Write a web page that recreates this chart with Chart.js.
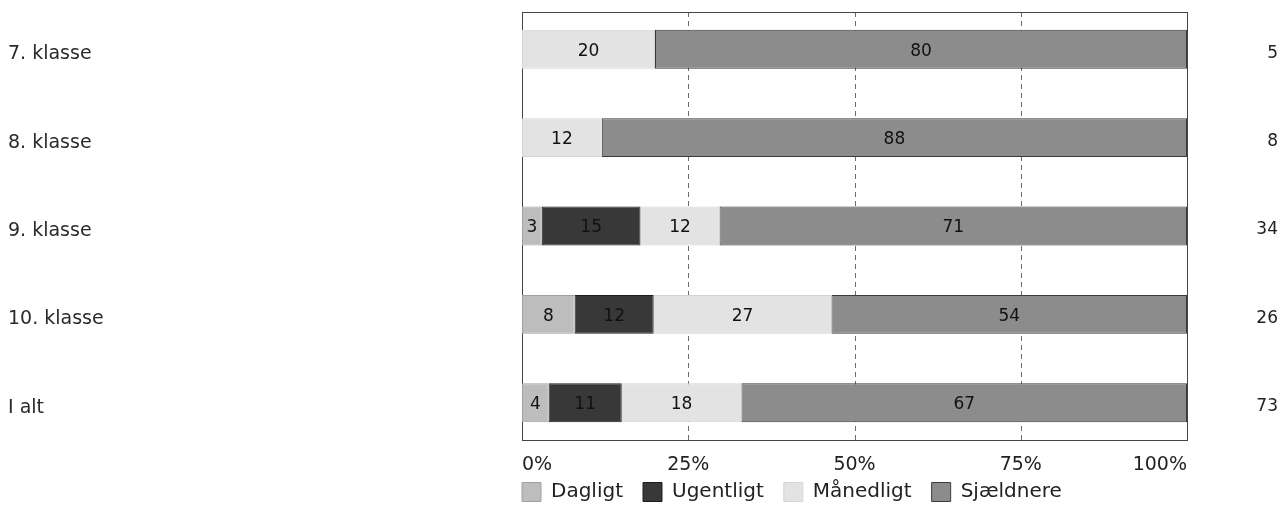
<!DOCTYPE html>
<html>
<head>
    <meta charset="utf-8">
    <title>Hyppighed fordelt på klassetrin</title>
    <script src="https://cdn.jsdelivr.net/npm/chart.js"></script>
    <style>
        html, body { margin: 0; padding: 0; background: #fff; overflow: hidden; }
    </style>
</head>
<body>
    <canvas id="freq-chart" width="1282" height="506"></canvas>

    <script>
        // data (percent per row, N on the right)
        const categories = ['7. klasse', '8. klasse', '9. klasse', '10. klasse', 'I alt'];
        const respondents = ['5', '8', '34', '26', '73'];
        const dagligt = [0, 0, 3, 8, 4];
        const ugentligt = [0, 0, 15, 12, 11];
        const maanedligt = [20, 12, 12, 27, 18];
        const sjaeldnere = [80, 88, 71, 54, 67];
        const seriesNames = ['Dagligt', 'Ugentligt', 'Månedligt', 'Sjældnere'];
        const xTickStep = 25;

        const rawSeries = [dagligt, ugentligt, maanedligt, sjaeldnere];
        const fills = ['#bdbdbd', '#383838', '#e3e3e3', '#8c8c8c'];
        const borders = ['#a0a0a0', '#1e1e1e', '#d4d4d4', '#3a3a3a'];

        // rows do not always add up to exactly 100 because of rounding
        const rowTotals = categories.map((c, i) => rawSeries.reduce((s, arr) => s + arr[i], 0));

        const font = 'DejaVu Sans';

        const frameAndGrid = {
            id: 'frameAndGrid',
            beforeDatasetsDraw(chart) {
                const ctx = chart.ctx;
                const x = chart.scales.x;
                const area = chart.chartArea;
                const top = area.top + 7, bottom = area.bottom - 7;
                ctx.save();
                ctx.strokeStyle = '#6a6a6a';
                ctx.lineWidth = 1;
                ctx.setLineDash([5, 4]);
                for (let v = xTickStep; v < 100; v += xTickStep) {
                    const px = Math.round(x.getPixelForValue(v)) + 0.5;
                    ctx.beginPath();
                    ctx.moveTo(px, top);
                    ctx.lineTo(px, bottom);
                    ctx.stroke();
                }
                ctx.setLineDash([]);
                ctx.strokeStyle = '#444';
                const l = Math.round(x.getPixelForValue(0)) + 0.5;
                const r = Math.round(x.getPixelForValue(100)) + 0.5;
                ctx.strokeRect(l, Math.round(top) + 0.5, r - l, Math.round(bottom - top));
                ctx.restore();
            }
        };

        const valueLabels = {
            id: 'valueLabels',
            afterDatasetsDraw(chart) {
                const ctx = chart.ctx;
                ctx.save();
                ctx.font = '17px "' + font + '"';
                ctx.fillStyle = '#111';
                ctx.textAlign = 'center';
                ctx.textBaseline = 'middle';
                chart.data.datasets.forEach((ds, di) => {
                    chart.getDatasetMeta(di).data.forEach((bar, i) => {
                        const v = rawSeries[di][i];
                        if (!v) return;
                        const p = bar.getProps(['x', 'y', 'base'], true);
                        ctx.fillText(String(v), (p.x + p.base) / 2, p.y + 2);
                    });
                });
                ctx.restore();
            }
        };

        // put the legend right under the axis, starting at the plot's left edge
        const legendPlace = {
            id: 'legendPlace',
            afterLayout(chart) {
                const lg = chart.legend;
                const pad = lg.options.labels.padding;
                lg.left = chart.chartArea.left - pad;
                lg.right = chart.width;
                lg.width = lg.right - lg.left;
                lg.top = chart.chartArea.bottom + 45 - pad - 10;
                lg.bottom = chart.height;
                lg.height = lg.bottom - lg.top;
            }
        };

        // the category labels sit inside their bands, no extra room needed
        function fixSide(width) {
            return scale => {
                scale.width = width;
                scale.paddingTop = 0;
                scale.paddingBottom = 0;
            };
        }

        const ctx = document.getElementById('freq-chart').getContext('2d');
        const chart = new Chart(ctx, {
            type: 'bar',
            data: {
                labels: categories,
                datasets: rawSeries.map((arr, k) => ({
                    label: seriesNames[k],
                    data: arr.map((v, i) => v / rowTotals[i] * 100),
                    backgroundColor: fills[k],
                    borderColor: borders[k],
                    borderWidth: 1,
                    borderSkipped: false,
                    barPercentage: 0.44,
                    categoryPercentage: 1
                }))
            },
            options: {
                indexAxis: 'y',
                responsive: false,
                devicePixelRatio: 1,
                animation: false,
                layout: { padding: { left: 8, right: 4, top: 5, bottom: 0 } },
                scales: {
                    x: {
                        type: 'linear',
                        position: 'bottom',
                        stacked: true,
                        min: 0,
                        max: 100,
                        grid: { display: false, drawTicks: false },
                        border: { display: false },
                        ticks: {
                            stepSize: xTickStep,
                            align: 'inner',
                            padding: 7,
                            color: '#222',
                            font: { family: font, size: 19 },
                            callback: v => v + '%'
                        },
                        afterFit(scale) {
                            scale.height = 30;
                            scale.paddingLeft = 0;
                            scale.paddingRight = 0;
                        }
                    },
                    y: {
                        type: 'category',
                        stacked: true,
                        offset: true,
                        grid: { display: false, drawTicks: false },
                        border: { display: false },
                        ticks: {
                            crossAlign: 'far',
                            labelOffset: 5,
                            color: '#2a2a2a',
                            font: { family: font, size: 19 }
                        },
                        afterFit: fixSide(514)
                    },
                    n: {
                        type: 'category',
                        axis: 'y',
                        position: 'right',
                        labels: respondents,
                        offset: true,
                        grid: { display: false, drawTicks: false },
                        border: { display: false },
                        ticks: {
                            crossAlign: 'far',
                            labelOffset: 4,
                            color: '#222',
                            font: { family: font, size: 17 }
                        },
                        afterFit: fixSide(91)
                    }
                },
                plugins: {
                    legend: {
                        position: 'bottom',
                        align: 'start',
                        fullSize: false,
                        maxHeight: 29,
                        labels: {
                            boxWidth: 19,
                            boxHeight: 19,
                            padding: 20,
                            color: '#222',
                            font: { family: font, size: 20 }
                        }
                    },
                    tooltip: { enabled: false }
                }
            },
            plugins: [frameAndGrid, valueLabels, legendPlace]
        });
    </script>
</body>
</html>
